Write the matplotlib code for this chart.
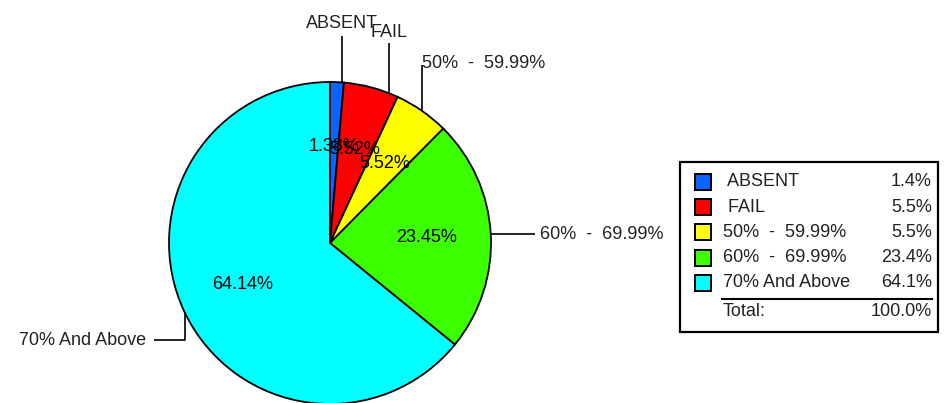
import matplotlib
matplotlib.use("Agg")
import matplotlib.pyplot as plt
from matplotlib.patches import Rectangle
import numpy as np

plt.rcParams['font.family'] = ['Liberation Sans', 'DejaVu Sans']

# ---- data ----
categories = ["ABSENT", "FAIL", "50%  -  59.99%", "60%  -  69.99%", "70% And Above"]
legend_names = [" ABSENT", " FAIL", "50%  -  59.99%", "60%  -  69.99%", "70% And Above"]
values = [1.38, 5.52, 5.52, 23.45, 64.14]
colors = ["#0a64ff", "#ff0000", "#ffff00", "#3cff00", "#00ffff"]

W, H = 944, 403
FS = 13

fig = plt.figure(figsize=(W / 100, H / 100), dpi=100)
ax = fig.add_axes([0, 0, 1, 1])

pct_labels = iter([f"{v:.2f}%" for v in values])
cx, cy, R = 330, H - 243, 161
wedges, texts, autotexts = ax.pie(
    values, colors=colors, startangle=90, counterclock=False,
    center=(cx, cy), radius=R,
    autopct=lambda p: next(pct_labels), pctdistance=0.6,
    wedgeprops=dict(edgecolor="black", linewidth=1.3),
    textprops=dict(fontsize=FS, color="black"), frame=True)
ax.set_xlim(0, W)
ax.set_ylim(0, H)
ax.axis("off")

# ---- leader lines (layout only) ----
leaders = [
    dict(shift=-1.8, segs=[(0, 46.5)], toff=(0, 7.5), ha="center", va="baseline"),
    dict(shift=-6.6, segs=[(0, 50)], toff=(0, 6.5), ha="center", va="baseline"),
    dict(shift=0.0, segs=[(0, 46)], toff=(0, -3), ha="left", va="baseline"),
    dict(shift=0.0, segs=[(44, 0)], toff=(5, 0), ha="left", va="center"),
    dict(shift=0.0, segs=[(0, -28), (-31, 0)], toff=(-7, 0), ha="right", va="center"),
]
for w, name, ld in zip(wedges, categories, leaders):
    th = np.deg2rad((w.theta1 + w.theta2) / 2 + ld["shift"])
    x0, y0 = cx + R * np.cos(th), cy + R * np.sin(th)
    xs, ys = [x0], [y0]
    for dx, dy in ld["segs"]:
        xs.append(xs[-1] + dx)
        ys.append(ys[-1] + dy)
    ax.plot(xs, ys, color="black", lw=1.2, solid_capstyle="butt")
    ax.text(xs[-1] + ld["toff"][0], ys[-1] + ld["toff"][1], name,
            ha=ld["ha"], va=ld["va"], fontsize=FS, color="#222222")

# ---- legend table ----
ax.add_patch(Rectangle((680, H - 332), 258, 170, fill=False, edgecolor="black", lw=1.6))
row0, step = 182, 25.2
for i, (name, v, c) in enumerate(zip(legend_names, values, colors)):
    yp = H - (row0 + i * step)
    ax.add_patch(Rectangle((695, yp - 8), 16, 16, facecolor=c, edgecolor="black", lw=1.4))
    ax.text(723, yp, name, ha="left", va="center", fontsize=FS, color="#222222")
    ax.text(932, yp, f"{v:.1f}%", ha="right", va="center", fontsize=FS, color="#222222")
ax.plot([722, 932], [H - 299, H - 299], color="black", lw=1.5)
ax.text(723, H - 312, "Total:", ha="left", va="center", fontsize=FS, color="#222222")
ax.text(932, H - 312, f"{sum(values):.1f}%", ha="right", va="center", fontsize=FS, color="#222222")

fig.savefig("out.png", dpi=100)
